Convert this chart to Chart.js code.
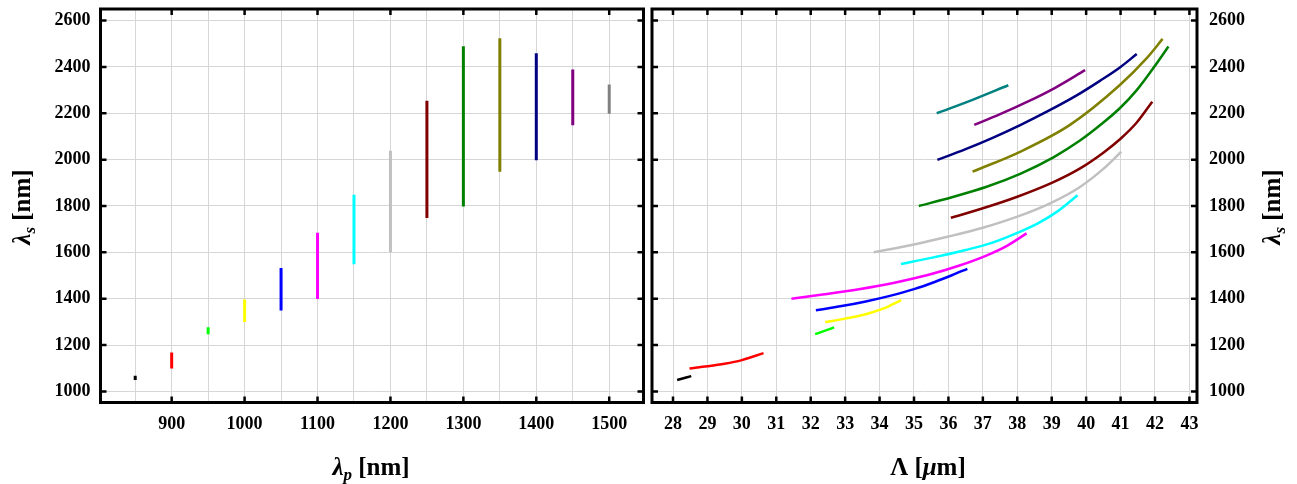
<!DOCTYPE html>
<html>
<head>
<meta charset="utf-8">
<script src="https://cdn.jsdelivr.net/npm/chart.js@4.4.1/dist/chart.umd.min.js"></script>
<style>
  html, body { margin: 0; padding: 0; background: #fff; }
  #wrap { position: relative; width: 1297px; height: 484px; }
  canvas { position: absolute; top: 0; }
</style>
</head>
<body>
<div id="wrap">
  <canvas id="left" width="647" height="484" style="left:0"></canvas>
  <canvas id="right" width="650" height="484" style="left:647px"></canvas>
</div>
<script>
// left panel: pump wavelength (nm) and the signal range reached (nm)
const pumpNm = [850, 900, 950, 1000, 1050, 1100, 1150, 1200, 1250, 1300, 1350, 1400, 1450, 1500];
const signalLow = [1049, 1099, 1247, 1299, 1349, 1399, 1549, 1600, 1748, 1798, 1948, 1997, 2148, 2198];
const signalHigh = [1067, 1168, 1277, 1396, 1532, 1684, 1848, 2038, 2254, 2489, 2524, 2459, 2389, 2324];
const leftColors = ["#000000", "#ff0000", "#00ff00", "#ffff00", "#0000ff", "#ff00ff", "#00ffff",
  "#c0c0c0", "#800000", "#008000", "#808000", "#000080", "#800080", "#808080"];

// right panel: poling period (um) vs signal (nm), one curve per pump
const curve850 = [[28.12, 1049], [28.53, 1066]];
const curve900 = [[28.48, 1099], [29.0, 1108], [29.5, 1119], [30.0, 1135], [30.63, 1165]];
const curve950 = [[32.13, 1247], [32.4, 1261], [32.68, 1276]];
const curve1000 = [[32.42, 1299], [33.0, 1314], [33.6, 1333], [34.1, 1357], [34.63, 1394]];
const curve1050 = [[32.15, 1350], [32.9, 1368], [33.6, 1388], [34.3, 1412], [35.0, 1441], [35.6, 1472], [36.1, 1501], [36.55, 1529]];
const curve1100 = [[31.44, 1400], [32.4, 1419], [33.4, 1441], [34.4, 1468], [35.4, 1502], [36.3, 1542], [37.1, 1586], [37.7, 1628], [38.27, 1682]];
const curve1150 = [[34.62, 1550], [35.5, 1576], [36.5, 1610], [37.3, 1643], [38.0, 1684], [38.6, 1725], [39.2, 1780], [39.75, 1846]];
const curve1200 = [[33.83, 1600], [35.0, 1634], [36.0, 1668], [37.0, 1706], [38.0, 1754], [39.0, 1815], [39.8, 1880], [40.5, 1960], [41.02, 2034]];
const curve1250 = [[36.07, 1749], [37.0, 1790], [38.0, 1840], [39.05, 1903], [39.8, 1960], [40.5, 2030], [41.0, 2090], [41.47, 2160], [41.92, 2250]];
const curve1300 = [[35.14, 1800], [36.1, 1838], [37.11, 1883], [38.1, 1940], [39.05, 2010], [39.8, 2080], [40.5, 2160], [41.0, 2225], [41.47, 2300], [42.0, 2405], [42.39, 2488]];
const curve1350 = [[36.7, 1948], [38.08, 2034], [39.53, 2150], [40.98, 2322], [41.76, 2438], [42.22, 2521]];
const curve1400 = [[35.68, 1999], [36.5, 2045], [37.3, 2095], [38.1, 2150], [38.9, 2210], [39.7, 2275], [40.4, 2340], [41.0, 2400], [41.47, 2456]];
const curve1450 = [[36.75, 2150], [37.5, 2196], [38.3, 2250], [39.1, 2310], [39.97, 2386]];
const curve1500 = [[35.66, 2200], [36.7, 2258], [37.74, 2321]];
const rightColors = ["#000000", "#ff0000", "#00ff00", "#ffff00", "#0000ff", "#ff00ff", "#00ffff",
  "#c0c0c0", "#800000", "#008000", "#808000", "#000080", "#800080", "#008080"];

// tick values
const leftXTicks = [850, 900, 950, 1000, 1050, 1100, 1150, 1200, 1250, 1300, 1350, 1400, 1450, 1500];
const rightXTicks = [28, 29, 30, 31, 32, 33, 34, 35, 36, 37, 38, 39, 40, 41, 42, 43];
const yTicks = [1000, 1200, 1400, 1600, 1800, 2000, 2200, 2400, 2600];

const serif = '"Liberation Serif", "Times New Roman", serif';
const tickFont = { family: serif, size: 18, weight: "bold" };
const gridColor = "#d6d6d6";

// text with a subscript, centred on (cx, cy), optionally rotated
function drawRich(ctx, parts, cx, cy, rot) {
  ctx.save();
  ctx.translate(cx, cy);
  ctx.rotate(rot);
  ctx.fillStyle = "#000";
  ctx.textBaseline = "alphabetic";
  let w = 0;
  parts.forEach((p) => { ctx.font = p.font; w += ctx.measureText(p.text).width; });
  let x = -w / 2;
  parts.forEach((p) => {
    ctx.font = p.font;
    ctx.fillText(p.text, x, 8 + (p.dy || 0));
    x += ctx.measureText(p.text).width;
  });
  ctx.restore();
}

// frame, inward tick marks and axis titles
const framePlugin = {
  id: "frame",
  afterDraw(chart, args, opts) {
    const { ctx, chartArea: a, scales } = chart;
    ctx.save();
    ctx.strokeStyle = "#000";
    ctx.lineWidth = 2.5;
    ctx.beginPath();
    scales.x.ticks.forEach((t) => {
      if (t.label === "") return;
      const px = scales.x.getPixelForValue(t.value);
      ctx.moveTo(px, a.top); ctx.lineTo(px, a.top + 6);
      ctx.moveTo(px, a.bottom); ctx.lineTo(px, a.bottom - 6);
    });
    scales.y.ticks.forEach((t) => {
      const py = scales.y.getPixelForValue(t.value);
      ctx.moveTo(a.left, py); ctx.lineTo(a.left + 6, py);
      ctx.moveTo(a.right, py); ctx.lineTo(a.right - 6, py);
    });
    ctx.stroke();
    ctx.lineWidth = 3;
    ctx.strokeRect(a.left, a.top, a.right - a.left, a.bottom - a.top);
    ctx.restore();
    drawRich(ctx, opts.xTitle, opts.xPos[0], opts.xPos[1], 0);
    drawRich(ctx, opts.yTitle, opts.yPos[0], opts.yPos[1], -Math.PI / 2);
  },
};

const big = "bold 25px " + serif;
const bigItalic = "italic bold 25px " + serif;
const small = "italic bold 17px " + serif;
const lambdaS = [
  { text: "λ", font: bigItalic },
  { text: "s", font: small, dy: 5 },
  { text: " [nm]", font: big },
];

function segmentSets() {
  return pumpNm.map((p, i) => ({
    data: [{ x: p, y: signalLow[i] }, { x: p, y: signalHigh[i] }],
    borderColor: leftColors[i],
    borderWidth: 3,
    showLine: true,
    pointRadius: 0,
  }));
}

function curveSets() {
  const curves = [curve850, curve900, curve950, curve1000, curve1050, curve1100, curve1150,
    curve1200, curve1250, curve1300, curve1350, curve1400, curve1450, curve1500];
  return curves.map((c, i) => ({
    data: c.map((pt) => ({ x: pt[0], y: pt[1] })),
    borderColor: rightColors[i],
    borderWidth: 2.5,
    showLine: true,
    pointRadius: 0,
    cubicInterpolationMode: "monotone",
  }));
}

function yScale(position, width, padding) {
  return {
    type: "linear",
    position: position,
    min: 952,
    max: 2650,
    afterBuildTicks: (s) => { s.ticks = yTicks.map((v) => ({ value: v })); },
    afterFit: (s) => { s.width = width; s.paddingTop = 0; s.paddingBottom = 0; },
    grid: { color: gridColor, lineWidth: 1, drawTicks: false },
    border: { display: false },
    ticks: { font: tickFont, color: "#000", padding: padding, callback: (v) => String(v) },
  };
}

function xScale(min, max, ticks, labelFn) {
  return {
    type: "linear",
    min: min,
    max: max,
    afterBuildTicks: (s) => { s.ticks = ticks.map((v) => ({ value: v })); },
    afterFit: (s) => { s.height = 81.5; s.paddingLeft = 0; s.paddingRight = 0; },
    grid: { color: gridColor, lineWidth: 1, drawTicks: false },
    border: { display: false },
    ticks: { font: tickFont, color: "#000", padding: 11, maxRotation: 0, autoSkip: false, callback: labelFn },
  };
}

new Chart(document.getElementById("left"), {
  type: "scatter",
  data: { datasets: segmentSets() },
  plugins: [framePlugin],
  options: {
    responsive: false,
    animation: false,
    layout: { padding: { top: 9, right: 3.5, left: 0, bottom: 0 } },
    scales: {
      x: xScale(802.4, 1547, leftXTicks, (v) => (v % 100 === 0 ? String(v) : "")),
      y: yScale("left", 100.5, 10),
    },
    plugins: {
      legend: { display: false },
      tooltip: { enabled: false },
      frame: {
        xTitle: [
          { text: "λ", font: bigItalic },
          { text: "p", font: small, dy: 5 },
          { text: " [nm]", font: big },
        ],
        xPos: [371, 467],
        yTitle: lambdaS,
        yPos: [22, 207],
      },
    },
  },
});

new Chart(document.getElementById("right"), {
  type: "scatter",
  data: { datasets: curveSets() },
  plugins: [framePlugin],
  options: {
    responsive: false,
    animation: false,
    layout: { padding: { top: 9, right: 0, left: 5, bottom: 0 } },
    scales: {
      x: xScale(27.39, 43.22, rightXTicks, (v) => String(v)),
      y: yScale("right", 100, 12),
    },
    plugins: {
      legend: { display: false },
      tooltip: { enabled: false },
      frame: {
        xTitle: [
          { text: "Λ [", font: big },
          { text: "μ", font: bigItalic },
          { text: "m]", font: big },
        ],
        xPos: [928 - 647, 467],
        yTitle: lambdaS,
        yPos: [1272 - 647, 207],
      },
    },
  },
});
</script>
</body>
</html>
